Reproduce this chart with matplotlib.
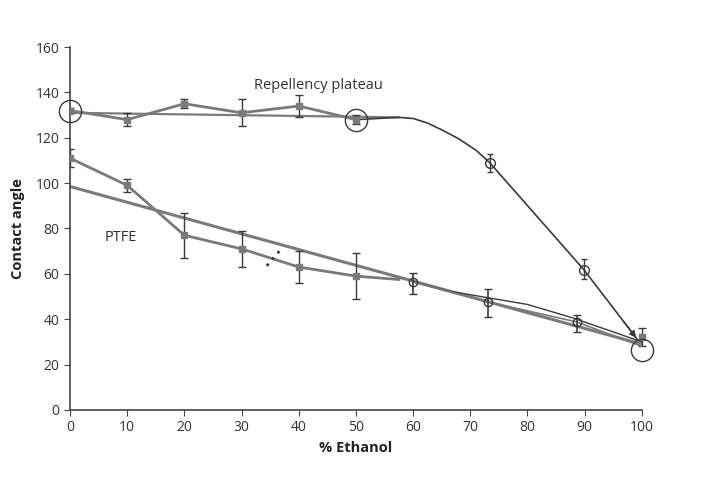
import matplotlib
matplotlib.use("Agg")
import matplotlib.pyplot as plt
import numpy as np

plt.rcParams['font.family'] = ['Open Sans', 'DejaVu Sans']

# Repellency plateau series (Excel markers)
rep_x = [0, 10, 20, 30, 40, 50]
rep_y = [132, 128, 135, 131, 134, 128]
rep_err = [1, 3, 2, 6, 5, 2]
# plateau fit line
rep_fit_x = [0, 57.5]
rep_fit_y = [131, 129]
# hand-drawn continuation
rep_hand_x = [50, 57.5, 60, 62.5, 65, 68, 71, 73.4, 89.9, 99.3]
rep_hand_y = [128, 129, 128.5, 126.5, 123.5, 119.5, 114.5, 109, 61.7, 30.8]
rep_hand_pts_x = [73.4, 89.9]
rep_hand_pts_y = [108.8, 61.7]
rep_hand_err_lo = [4, 4]
rep_hand_err_hi = [4, 5]

# PTFE series
ptfe_x = [0, 10, 20, 30, 40, 50, 57.5]
ptfe_y = [111, 99, 77, 71, 63, 59, 57.5]
ptfe_err = [4, 3, 10, 8, 7, 10, 0]
ptfe_fit_x = [0, 100]
ptfe_fit_y = [98.5, 29]
ptfe_end_x = [100]
ptfe_end_y = [32]
ptfe_end_err = [4]
# hand-drawn points and lines
hand_x = [60, 73.1, 88.6, 100]
hand_y = [56.4, 47.6, 38.8, 28]
hand_lo = [5.4, 6.6, 4.4, 0]
hand_hi = [4, 5.7, 3, 0]
hand2_x = [60, 66, 73, 80, 88, 100]
hand2_y = [56.5, 52.5, 49.5, 46.5, 40.5, 30]
dots_x = [34.4, 37.2]
dots_y = [63.5, 71.8]
big_circ_x = [0, 50, 100]
big_circ_y = [132, 128, 26.4]

fig = plt.figure(figsize=(7.22, 4.8), dpi=100)
ax = fig.add_axes([0.097, 0.146, 0.792, 0.756])

grey = '#7a7a7a'
ink = '#3a3a3a'

ax.plot(rep_fit_x, rep_fit_y, color=grey, lw=1.6, zorder=2)
ax.errorbar(rep_x, rep_y, yerr=rep_err, color=grey, lw=2, marker='s', ms=5,
            ecolor=ink, elinewidth=1, capsize=3, zorder=3)
ax.plot(rep_hand_x, rep_hand_y, color=ink, lw=1.2, zorder=3)
ax.errorbar(rep_hand_pts_x, rep_hand_pts_y, yerr=[rep_hand_err_lo, rep_hand_err_hi],
            fmt='o', mfc='none', mec=ink, ms=7, ecolor=ink, elinewidth=1, capsize=2, zorder=4)

ax.plot(ptfe_fit_x, ptfe_fit_y, color=grey, lw=2.2, zorder=2)
ax.errorbar(ptfe_x[:-1], ptfe_y[:-1], yerr=ptfe_err[:-1], color=grey, lw=2, marker='s', ms=5,
            ecolor=ink, elinewidth=1, capsize=3, zorder=3)
ax.plot(ptfe_x[-2:], ptfe_y[-2:], color=grey, lw=2, zorder=3)
ax.errorbar(ptfe_end_x, ptfe_end_y, yerr=ptfe_end_err, fmt='s', color=grey, ms=5,
            ecolor=ink, elinewidth=1, capsize=3, zorder=3, clip_on=False)
ax.plot(hand2_x, hand2_y, color=ink, lw=1.0, zorder=3)
ax.plot(hand_x, hand_y, color=grey, lw=1.2, zorder=3)
ax.errorbar(hand_x[:-1], hand_y[:-1], yerr=[hand_lo[:-1], hand_hi[:-1]], fmt='o', mfc='none',
            mec=ink, ms=6, ecolor=ink, elinewidth=1.2, capsize=3, zorder=4)
ax.plot(dots_x, dots_y, ls=(0, (1, 2)), lw=2, color=ink, zorder=4)
ax.plot(big_circ_x, big_circ_y, ls='none', marker='o', ms=16, mfc='none', mec=ink, mew=1,
        zorder=5, clip_on=False)
ax.annotate('', xy=(rep_hand_x[-1], rep_hand_y[-1]), xytext=(96.5, 40),
            arrowprops=dict(arrowstyle='-|>', color=ink, lw=1, mutation_scale=10))

ax.text(32.2, 143, 'Repellency plateau', fontsize=10.5, color='#333333', va='center')
ax.text(6.1, 76, 'PTFE', fontsize=10.5, color='#333333', va='center')

ax.set_xlim(0, 100)
ax.set_ylim(0, 160)
ax.set_xticks(np.arange(0, 101, 10))
ax.set_yticks(np.arange(0, 161, 20))
ax.spines['top'].set_visible(False)
ax.spines['right'].set_visible(False)
for s in ['left', 'bottom']:
    ax.spines[s].set_color('#444444')
    ax.spines[s].set_linewidth(1.2)
ax.tick_params(direction='out', length=4, color='#444444', labelsize=10, labelcolor='#333333')
ax.set_xlabel('% Ethanol', fontsize=10.5, fontweight='bold', color='#222222', labelpad=4)
ax.set_ylabel('Contact angle', fontsize=10.5, fontweight='bold', color='#222222', labelpad=8)
ax.patch.set_alpha(0)
fig.savefig('out.png', dpi=100)
